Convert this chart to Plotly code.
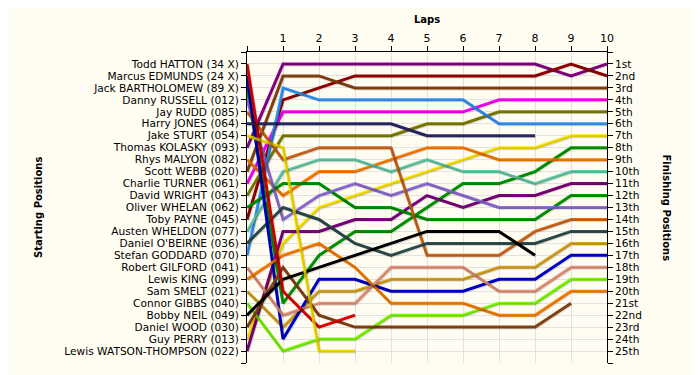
import plotly.graph_objects as go

laps = list(range(0, 11))

starting_names = [
    "Todd HATTON (34 X)", "Marcus EDMUNDS (24 X)", "Jack BARTHOLOMEW (89 X)",
    "Danny RUSSELL (012)", "Jay RUDD (085)", "Harry JONES (064)", "Jake STURT (054)",
    "Thomas KOLASKY (093)", "Rhys MALYON (082)", "Scott WEBB (020)",
    "Charlie TURNER (061)", "David WRIGHT (043)", "Oliver WHELAN (062)",
    "Toby PAYNE (045)", "Austen WHELDON (077)", "Daniel O'BEIRNE (036)",
    "Stefan GODDARD (070)", "Robert GILFORD (041)", "Lewis KING (099)",
    "Sam SMELT (021)", "Connor GIBBS (040)", "Bobby NEIL (049)",
    "Daniel WOOD (030)", "Guy PERRY (013)", "Lewis WATSON-THOMPSON (022)",
]

finish_labels = ["1st", "2nd", "3rd"] + [f"{i}th" for i in range(4, 21)] + ["21st", "22nd", "23rd", "24th", "25th"]

# position per lap, index 0 = grid position
pos_purple_1 = [8, 1, 1, 1, 1, 1, 1, 1, 1, 2, 1]
pos_darkred = [14, 4, 3, 2, 2, 2, 2, 2, 2, 1, 2]
pos_brown_3 = [10, 2, 2, 3, 3, 3, 3, 3, 3, 3, 3]
pos_magenta = [11, 5, 5, 5, 5, 5, 5, 4, 4, 4, 4]
pos_olive = [12, 7, 7, 7, 7, 6, 6, 5, 5, 5, 5]
pos_dodger = [17, 3, 4, 4, 4, 4, 4, 6, 6, 6, 6]
pos_yellow_7 = [24, 16, 13, 12, 11, 10, 9, 8, 8, 7, 7]
pos_green_8 = [3, 21, 17, 15, 15, 13, 11, 11, 10, 8, 8]
pos_orange_9 = [9, 12, 10, 10, 9, 8, 8, 9, 9, 9, 9]
pos_aqua = [15, 10, 9, 9, 10, 9, 10, 10, 11, 10, 10]
pos_purple_11 = [25, 15, 15, 14, 14, 12, 13, 12, 12, 11, 11]
pos_green_12 = [13, 11, 11, 13, 13, 14, 14, 14, 14, 12, 12]
pos_mpurple = [4, 14, 12, 11, 12, 11, 12, 13, 13, 13, 13]
pos_chocolate = [5, 9, 8, 8, 8, 17, 17, 17, 15, 14, 14]
pos_slate = [16, 13, 14, 16, 17, 16, 16, 16, 16, 15, 15]
pos_goldenrod = [20, 23, 20, 20, 19, 19, 19, 18, 18, 16, 16]
pos_blue = [2, 24, 19, 19, 20, 20, 20, 19, 19, 17, 17]
pos_salmon = [18, 22, 21, 21, 18, 18, 18, 20, 20, 18, 18]
pos_lawngreen = [21, 25, 24, 24, 22, 22, 22, 21, 21, 19, 19]
pos_orange_20 = [19, 17, 16, 18, 21, 21, 21, 22, 22, 20, 20]
pos_brown_b = [23, 18, 22, 23, 23, 23, 23, 23, 23, 21]
pos_black = [22, 19, 18, 17, 16, 15, 15, 15, 17]
pos_navy = [6, 6, 6, 6, 6, 7, 7, 7, 7]
pos_red = [1, 20, 23, 22]
pos_yellow_b = [7, 8, 25, 25]

series = [
    (pos_purple_1, "#8B008B"), (pos_darkred, "#990000"), (pos_brown_3, "#8B4513"),
    (pos_magenta, "#FF00FF"), (pos_olive, "#808000"), (pos_dodger, "#3399FF"),
    (pos_yellow_7, "#FFE600"), (pos_green_8, "#009900"), (pos_orange_9, "#FF8000"),
    (pos_aqua, "#66CDAA"), (pos_purple_11, "#800080"), (pos_green_12, "#009900"),
    (pos_mpurple, "#9370DB"), (pos_chocolate, "#D2691E"), (pos_slate, "#2F4F4F"),
    (pos_goldenrod, "#DAA520"), (pos_blue, "#0000CD"), (pos_salmon, "#E9967A"),
    (pos_lawngreen, "#7CFC00"), (pos_orange_20, "#FF8000"), (pos_brown_b, "#8B4513"),
    (pos_black, "#000000"), (pos_navy, "#2B2B6B"), (pos_red, "#EE0000"),
    (pos_yellow_b, "#FFE600"),
]

fig = go.Figure()
# soft drop shadows drawn on axes offset by ~1 px
for vals, col in series:
    fig.add_trace(go.Scatter(
        x=laps[:len(vals)], y=vals, mode="lines", xaxis="x2", yaxis="y3",
        line=dict(color="rgba(0,0,0,0.13)", width=3), hoverinfo="skip", showlegend=False,
    ))
for vals, col in series:
    fig.add_trace(go.Scatter(
        x=laps[:len(vals)], y=vals, mode="lines",
        line=dict(color=col, width=3), hoverinfo="skip", showlegend=False,
    ))
# invisible trace for right axis
fig.add_trace(go.Scatter(x=[0], y=[1], yaxis="y2", mode="lines", line=dict(width=0),
                         hoverinfo="skip", showlegend=False))

font = dict(family="DejaVu Sans, Verdana, sans-serif", size=10, color="#000000")
bg = "#FFFDF2"

px_x = 10 / 360.0
px_y = 26 / 311.0

yticks = list(range(0, 27))
fig.update_layout(
    width=700, height=375,
    margin=dict(l=239, r=101, t=44, b=20),
    paper_bgcolor=bg, plot_bgcolor=bg,
    font=font,
    xaxis=dict(
        side="top", range=[0, 10], tickvals=list(range(0, 11)),
        ticktext=[""] + [str(i) for i in range(1, 11)],
        ticks="outside", ticklen=5, tickcolor="#000", showline=True, linecolor="#000",
        linewidth=1, showgrid=True, gridcolor="#E2E2E2", zeroline=False,
        tickfont=dict(size=11), automargin=False,
        title=dict(text="<b>Laps</b>", font=dict(size=10), standoff=6),
    ),
    xaxis2=dict(overlaying="x", range=[-px_x, 10 - px_x], visible=False),
    yaxis=dict(
        range=[26, 0], tickvals=yticks,
        ticktext=[""] + starting_names + [""],
        ticks="outside", ticklen=5, tickcolor="#000", showline=True, linecolor="#000",
        linewidth=1, showgrid=True, gridcolor="#E2E2E2", zeroline=False,
        tickfont=dict(size=10.6), automargin=False,
    ),
    yaxis2=dict(
        overlaying="y", side="right", range=[26, 0], tickvals=yticks,
        ticktext=[""] + finish_labels + [""],
        ticks="outside", ticklen=5, tickcolor="#000", showline=True, linecolor="#000",
        linewidth=1, showgrid=False, zeroline=False, tickfont=dict(size=10.6),
        automargin=False,
    ),
    yaxis3=dict(overlaying="y", range=[26 - px_y, -px_y], visible=False),
)
fig.add_annotation(text="<b>Finishing Positions</b>", xref="paper", yref="paper",
                   x=1.185, y=0.5, textangle=90, showarrow=False, font=dict(size=10))
fig.add_annotation(text="<b>Starting Positions</b>", xref="paper", yref="paper",
                   x=-0.6, y=0.5, textangle=-90, showarrow=False, font=dict(size=10))
fig.write_html("out.html")
